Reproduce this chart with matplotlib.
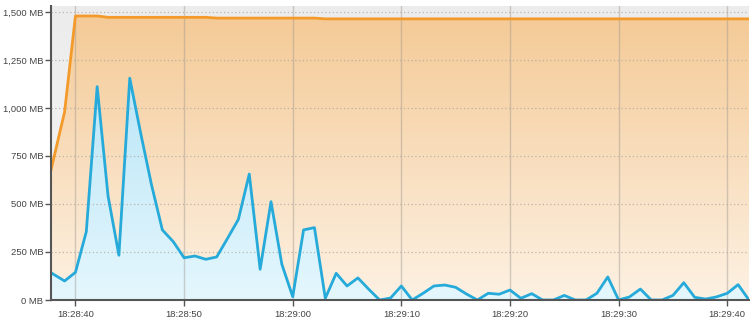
import numpy as np
import matplotlib
matplotlib.use('Agg')
import matplotlib.pyplot as plt
from matplotlib.ticker import FuncFormatter, MultipleLocator
from matplotlib.colors import LinearSegmentedColormap
from matplotlib.patches import Polygon

plt.rcParams['font.family'] = ['Liberation Sans', 'DejaVu Sans']

# Sample times in seconds after 18:28:40
seconds = [-2.25, -1] + list(range(0, 63))

# Heap committed (orange) and used (blue), MB
committed = [677, 979, 1479, 1479, 1479] + [1472] * 10 + [1468] * 10 + [1464] * 40
used = [142, 99, 144, 356, 1111, 542, 233, 1155, 870, 600,
        365, 304, 220, 229, 212, 224, 321, 420, 656, 160,
        512, 186, 17, 365, 377, 9, 139, 73, 115, 56,
        0, 10, 73, 0, 35, 73, 78, 66, 31, 0,
        35, 30, 52, 9, 33, 0, 0, 24, 0, 0,
        35, 120, 0, 16, 57, 0, 0, 24, 90, 14,
        5, 16, 35, 80, 0]

y_ticks = [0, 250, 500, 750, 1000, 1250, 1500]

x = np.array(seconds, dtype=float)
c = np.array(committed, dtype=float)
u = np.array(used, dtype=float)

fig = plt.figure(figsize=(7.56, 3.3), dpi=100)
ax = fig.add_axes([51 / 756, 1 - 300 / 330, (749 - 51) / 756, 294 / 330])
xmin, xmax = x[0], x[-1]
ymin, ymax = 0, 1531
ax.set_xlim(xmin, xmax)
ax.set_ylim(ymin, ymax)


def gradient_fill(ax, top_col, bot_col, ys, z):
    cmap = LinearSegmentedColormap.from_list('g', [bot_col, top_col])
    grad = np.linspace(0, 1, 256).reshape(-1, 1)
    im = ax.imshow(grad, cmap=cmap, aspect='auto', origin='lower',
                   extent=[xmin, xmax, ymin, ymax], zorder=z)
    if ys is not None:
        verts = np.vstack([[x[0], 0], np.column_stack([x, ys]), [x[-1], 0]])
        poly = Polygon(verts, closed=True, facecolor='none', edgecolor='none')
        ax.add_patch(poly)
        im.set_clip_path(poly)


# background gray gradient
gradient_fill(ax, '#ececec', '#f8f8f8', None, 0)
# committed area
gradient_fill(ax, '#f4c994', '#fdf1e3', c, 1)
# used area
gradient_fill(ax, '#aee0f5', '#e4f7fd', u, 2)

# grid
for t in range(0, 61, 10):
    ax.axvline(t, color='#a09890', alpha=0.45, lw=1, zorder=3)
for v in y_ticks[1:]:
    ax.axhline(v, color='#b0a8a0', lw=0.9, ls=(0, (1, 2)), alpha=0.8, zorder=3)

ax.plot(x, c, color='#f39a2a', lw=2, zorder=4, solid_joinstyle='round')
ax.plot(x, u, color='#26aad9', lw=2, zorder=5, solid_joinstyle='round')

ax.xaxis.set_major_locator(MultipleLocator(10))
ax.xaxis.set_major_formatter(FuncFormatter(
    lambda v, pos: f"18:{28 + int(40 + v) // 60:02d}:{int(40 + v) % 60:02d}"))
ax.set_yticks(y_ticks)
ax.yaxis.set_major_formatter(FuncFormatter(lambda v, pos: f"{v:,.0f} MB"))

for s in ['top', 'right']:
    ax.spines[s].set_visible(False)
for s in ['left', 'bottom']:
    ax.spines[s].set_color('#555555')
    ax.spines[s].set_linewidth(1.5)
    ax.spines[s].set_zorder(6)
ax.tick_params(axis='both', length=4, width=1, color='#555555',
               labelsize=6.8, labelcolor='#444444', pad=1.5)
ax.tick_params(axis='x', pad=3)

fig.savefig('out.png', dpi=100)
